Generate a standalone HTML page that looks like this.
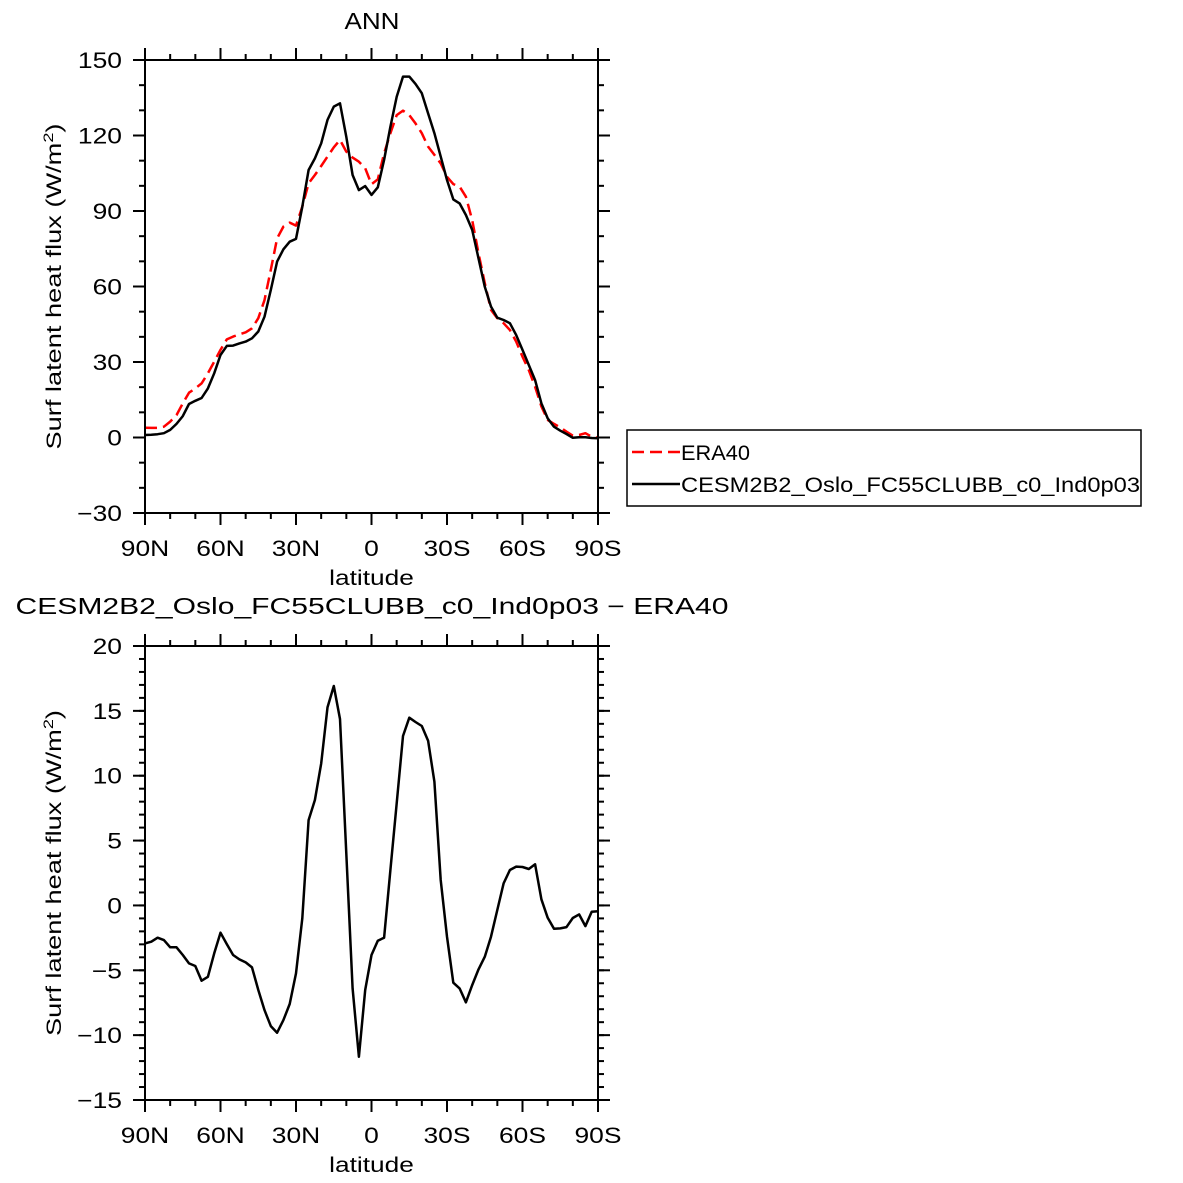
<!DOCTYPE html>
<html><head><meta charset="utf-8"><style>
html,body{margin:0;padding:0;background:#fff;}
svg{display:block;font-family:"Liberation Sans",sans-serif;}
</style></head><body>
<svg id="chart" width="1183" height="1183" viewBox="0 0 1183 1183" xmlns="http://www.w3.org/2000/svg"></svg>
<script>
const lats = [];
for (let i = 0; i < 73; i++) lats.push(90 - 2.5 * i);
const cesm = [1.0,1.1,1.3,1.7,3.0,5.4,8.5,13.3,14.6,15.7,19.5,25.5,32.8,36.4,36.5,37.4,38.1,39.4,42.1,48.0,58.6,69.9,74.8,77.8,78.9,91.7,106.3,110.9,116.9,126.2,131.5,132.8,119.5,104.3,98.3,99.9,96.4,99.4,
110.3,123.5,135.4,143.4,143.4,140.5,136.8,128.8,120.9,111.6,102.3,94.6,93.0,88.4,82.5,71.2,59.9,52.0,47.6,46.7,45.4,40.7,34.8,28.8,22.8,13.6,7.6,4.3,2.7,1.4,-0.1,0.1,0.1,-0.2,-0.3];
const era40 = [3.9,3.8,3.8,4.3,6.3,8.9,13.6,17.8,19.5,21.5,25.5,30.1,34.8,39.0,40.1,41.0,41.8,43.4,47.4,54.6,66.6,79.1,83.8,85.4,84.2,91.7,101.0,104.3,107.9,111.6,115.3,118.2,113.6,111.2,109.6,107.0,100.6,102.6,
112.9,120.9,128.1,129.9,128.1,124.8,120.9,115.6,112.3,108.9,103.6,100.7,99.7,95.7,86.4,73.2,61.3,50.7,47.4,45.4,42.7,38.1,32.1,26.8,20.2,12.3,7.0,5.4,4.0,2.3,0.7,1.0,1.7,0.3,-0.1];
const diff = [-2.93,-2.80,-2.49,-2.67,-3.23,-3.23,-3.82,-4.47,-4.67,-5.8,-5.5,-3.7,-2.1,-2.98,-3.82,-4.16,-4.39,-4.78,-6.52,-8.07,-9.3,-9.81,-8.84,-7.6,-5.24,-1.0,6.58,8.13,10.95,15.27,16.92,14.37,4.01,-6.4,-11.66,-6.52,-3.82,-2.72,-2.49,2.73,7.87,13.06,14.47,14.14,13.83,12.7,9.54,1.96,-2.41,-5.96,-6.4,-7.47,-6.14,-4.93,-3.95,-2.41,-0.35,1.7,2.73,2.99,2.96,2.81,3.17,0.47,-0.95,-1.8,-1.77,-1.67,-0.97,-0.69,-1.59,-0.48,-0.45];
const xTickVals = [90,60,30,0,-30,-60,-90];
const xTickLabels = ["90N","60N","30N","0","30S","60S","90S"];
const topYTicks = [-30,0,30,60,90,120,150];
const botYTicks = [-15,-10,-5,0,5,10,15,20];

const NS = "http://www.w3.org/2000/svg";
const svg = document.getElementById("chart");
function el(tag, attrs, parent) {
  const e = document.createElementNS(NS, tag);
  for (const k in attrs) e.setAttribute(k, attrs[k]);
  (parent || svg).appendChild(e);
  return e;
}
function widen(t, factor) {
  const len = t.getComputedTextLength();
  if (len > 0) {
    t.setAttribute("textLength", (len * factor).toFixed(1));
    t.setAttribute("lengthAdjust", "spacingAndGlyphs");
  }
}
const X0 = 145, X1 = 598;
const xs = lat => X0 + (90 - lat) / 180 * (X1 - X0);
const F = 1.2;

function panel(name, y0, y1, ymin, ymax, yTicks, yMinorStep, series) {
  const g = el("g", {});
  
  
  const ys = v => y1 - (v - ymin) / (ymax - ymin) * (y1 - y0);
  for (let v = ymin; v <= ymax + 1e-6; v += yMinorStep) {
    const y = ys(v);
    el("line", {x1: X0 - 6, x2: X0, y1: y, y2: y, stroke: "#000", "stroke-width": 2}, g);
    el("line", {x1: X1, x2: X1 + 6, y1: y, y2: y, stroke: "#000", "stroke-width": 2}, g);
  }
  for (let v = -90; v <= 90; v += 10) {
    const x = xs(v);
    el("line", {x1: x, x2: x, y1: y1, y2: y1 + 6, stroke: "#000", "stroke-width": 2}, g);
    el("line", {x1: x, x2: x, y1: y0 - 6, y2: y0, stroke: "#000", "stroke-width": 2}, g);
  }
  yTicks.forEach(v => {
    const y = ys(v);
    el("line", {x1: X0 - 12, x2: X0, y1: y, y2: y, stroke: "#000", "stroke-width": 2}, g);
    el("line", {x1: X1, x2: X1 + 12, y1: y, y2: y, stroke: "#000", "stroke-width": 2}, g);
    const t = el("text", {x: X0 - 23, y: y + 8, "text-anchor": "end", "font-size": 22}, g);
    
    
    t.textContent = v < 0 ? "\u2212" + Math.abs(v) : String(v);
    widen(t, F);
  });
  xTickVals.forEach((v, i) => {
    const x = xs(v);
    el("line", {x1: x, x2: x, y1: y1, y2: y1 + 12, stroke: "#000", "stroke-width": 2}, g);
    el("line", {x1: x, x2: x, y1: y0 - 12, y2: y0, stroke: "#000", "stroke-width": 2}, g);
    const t = el("text", {x: x, y: y1 + 43, "text-anchor": "middle", "font-size": 22}, g);
    
    
    t.textContent = xTickLabels[i];
    widen(t, F);
  });
  series.forEach(s => {
    const d = s.vals.map((v, i) => (i ? "L" : "M") + xs(lats[i]).toFixed(1) + "," + ys(v).toFixed(1)).join(" ");
    const p = el("path", {d: d, fill: "none", stroke: s.color, "stroke-width": 2.5, "stroke-dasharray": s.dash || "none", "stroke-linejoin": "round"}, g);
    
    
  });
  const f = el("rect", {x: X0, y: y0, width: X1 - X0, height: y1 - y0, fill: "none", stroke: "#000", "stroke-width": 2}, g);
  
  
  const xl = el("text", {x: (X0 + X1) / 2, y: y1 + 72, "text-anchor": "middle", "font-size": 21}, g);
  
  
  xl.textContent = "latitude";
  widen(xl, 1.25);
  const yl = el("text", {x: 0, y: 0, "text-anchor": "middle", "font-size": 21, textLength: 326, lengthAdjust: "spacingAndGlyphs", transform: "translate(61," + ((y0 + y1) / 2) + ") rotate(-90)"}, g);
  
  
  yl.innerHTML = 'Surf latent heat flux (W/m<tspan dy="-8" font-size="14">2</tspan><tspan dy="8">)</tspan>';
}

panel("top-panel", 60, 513, -30, 150, topYTicks, 10, [
  {name: "era40-line", vals: era40, color: "#f00", dash: "12 6"},
  {name: "cesm-line", vals: cesm, color: "#000"}
]);
panel("bottom-panel", 646, 1100, -15, 20, botYTicks, 1, [
  {name: "diff-line", vals: diff, color: "#000"}
]);

const t1 = el("text", {x: 372, y: 29, "text-anchor": "middle", "font-size": 23, textLength: 55, lengthAdjust: "spacingAndGlyphs"});


t1.textContent = "ANN";
const t2 = el("text", {x: 372, y: 614, "text-anchor": "middle", "font-size": 23, textLength: 713, lengthAdjust: "spacingAndGlyphs"});


t2.textContent = "CESM2B2_Oslo_FC55CLUBB_c0_Ind0p03 \u2212 ERA40";

const lg = el("g", {});


el("rect", {x: 627, y: 430, width: 514, height: 76, fill: "#fff", stroke: "#000", "stroke-width": 1.5}, lg);
el("line", {x1: 632, x2: 680, y1: 452, y2: 452, stroke: "#f00", "stroke-width": 2.5, "stroke-dasharray": "12 6"}, lg);
const l1 = el("text", {x: 681, y: 460, "font-size": 21, textLength: 69, lengthAdjust: "spacingAndGlyphs"}, lg);


l1.textContent = "ERA40";
el("line", {x1: 632, x2: 680, y1: 484, y2: 484, stroke: "#000", "stroke-width": 2.5}, lg);
const l2 = el("text", {x: 681, y: 492, "font-size": 21, textLength: 459, lengthAdjust: "spacingAndGlyphs"}, lg);


l2.textContent = "CESM2B2_Oslo_FC55CLUBB_c0_Ind0p03";
</script>
</body></html>
